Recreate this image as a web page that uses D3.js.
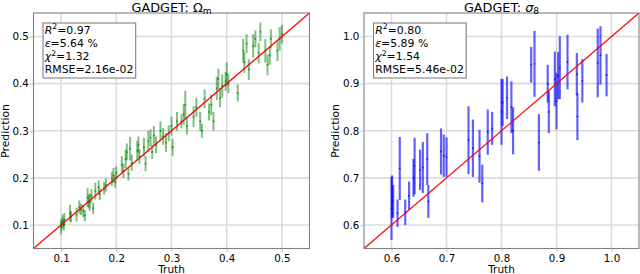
<!DOCTYPE html>
<html><head><meta charset="utf-8">
<script src="https://cdn.jsdelivr.net/npm/d3@7"></script>
<style>body{margin:0;background:#fff}svg{display:block;font-family:"DejaVu Sans",sans-serif}</style>
</head><body><svg id="c" width="640" height="274"></svg>
<script>
// Left panel: Omega_m  [truth, prediction, error]
const omTruth = [0.100,0.101,0.103,0.105,0.106,0.116,0.118,0.128,0.133,0.136,0.140,0.143,0.148,0.150,0.152,0.155,0.158,0.162,0.168,0.170,0.178,0.181,0.192,0.195,0.198,0.200,0.210,0.213,0.217,0.219,0.222,0.225,0.228,0.238,0.240,0.242,0.250,0.253,0.258,0.262,0.265,0.268,0.272,0.280,0.285,0.290,0.295,0.300,0.302,0.310,0.318,0.322,0.325,0.328,0.340,0.345,0.352,0.355,0.360,0.368,0.372,0.376,0.382,0.385,0.388,0.392,0.398,0.400,0.403,0.420,0.430,0.432,0.436,0.440,0.448,0.452,0.458,0.461,0.470,0.474,0.478,0.480,0.492,0.496,0.500];
const omPred  = [0.095,0.103,0.108,0.100,0.112,0.125,0.118,0.122,0.138,0.133,0.130,0.120,0.158,0.150,0.148,0.162,0.135,0.172,0.180,0.165,0.178,0.185,0.198,0.205,0.192,0.210,0.228,0.215,0.240,0.255,0.208,0.262,0.232,0.258,0.270,0.245,0.265,0.230,0.278,0.285,0.255,0.290,0.270,0.300,0.288,0.275,0.295,0.310,0.265,0.320,0.320,0.335,0.355,0.310,0.330,0.350,0.320,0.300,0.368,0.340,0.355,0.320,0.390,0.410,0.370,0.395,0.405,0.420,0.400,0.380,0.470,0.445,0.485,0.430,0.480,0.495,0.465,0.510,0.470,0.440,0.460,0.495,0.470,0.495,0.505];
const omErr   = [0.015,0.012,0.014,0.012,0.013,0.018,0.012,0.015,0.014,0.012,0.013,0.012,0.020,0.015,0.018,0.014,0.012,0.018,0.015,0.012,0.013,0.014,0.015,0.016,0.013,0.014,0.018,0.015,0.020,0.018,0.014,0.025,0.017,0.020,0.018,0.015,0.020,0.016,0.022,0.018,0.015,0.020,0.018,0.020,0.018,0.020,0.017,0.020,0.018,0.020,0.015,0.022,0.030,0.018,0.022,0.020,0.020,0.015,0.020,0.018,0.022,0.020,0.025,0.022,0.020,0.025,0.020,0.025,0.020,0.018,0.025,0.022,0.020,0.022,0.025,0.018,0.022,0.020,0.025,0.022,0.020,0.020,0.022,0.025,0.020];
// Right panel: sigma_8
const s8Truth = [0.600,0.601,0.603,0.611,0.615,0.625,0.632,0.640,0.642,0.652,0.657,0.665,0.667,0.690,0.695,0.700,0.740,0.748,0.760,0.765,0.775,0.783,0.800,0.802,0.810,0.818,0.821,0.854,0.860,0.868,0.884,0.886,0.897,0.900,0.903,0.906,0.920,0.937,0.938,0.947,0.975,0.980,0.991];
const s8Pred  = [0.635,0.660,0.650,0.625,0.720,0.627,0.662,0.700,0.725,0.717,0.722,0.740,0.650,0.756,0.747,0.744,0.780,0.763,0.746,0.688,0.797,0.805,0.840,0.860,0.870,0.850,0.800,0.940,0.942,0.775,0.900,0.840,0.910,0.863,0.917,0.934,0.946,0.920,0.830,0.906,0.944,0.960,0.918];
const s8Err   = [0.067,0.045,0.035,0.029,0.067,0.027,0.030,0.040,0.060,0.043,0.054,0.055,0.035,0.049,0.045,0.042,0.072,0.061,0.056,0.040,0.048,0.035,0.070,0.050,0.045,0.055,0.050,0.038,0.070,0.060,0.040,0.045,0.058,0.060,0.050,0.067,0.058,0.045,0.050,0.046,0.073,0.062,0.045];
const omTicks = [0.1,0.2,0.3,0.4,0.5];
const s8Ticks = [0.6,0.7,0.8,0.9,1.0];
const omStats = ["0.97","5.64","1.32","2.16e-02"];
const s8Stats = ["0.80","5.89","1.54","5.46e-02"];

const svg = d3.select("#c");

function panel(cfg){
  const g = svg.append("g");
  const x = d3.scaleLinear().domain(cfg.domain).range([cfg.x0, cfg.x1]);
  const y = d3.scaleLinear().domain(cfg.domain).range([248.5, 13]);
  // grid
  g.selectAll(".gx").data(cfg.ticks).join("line")
    .attr("x1",d=>x(d)).attr("x2",d=>x(d)).attr("y1",13).attr("y2",248.5)
    .attr("stroke","#dcdcdc").attr("stroke-width",1.6);
  g.selectAll(".gy").data(cfg.ticks).join("line")
    .attr("y1",d=>y(d)).attr("y2",d=>y(d)).attr("x1",cfg.x0).attr("x2",cfg.x1)
    .attr("stroke","#dcdcdc").attr("stroke-width",1.6);
  // error bars
  const pts = cfg.truth.map((t,i)=>({t, p:cfg.pred[i], e:cfg.err[i]}));
  g.selectAll(".eb").data(pts).join("line")
    .attr("x1",d=>x(d.t)).attr("x2",d=>x(d.t))
    .attr("y1",d=>y(d.p-d.e)).attr("y2",d=>y(d.p+d.e))
    .attr("stroke",cfg.color).attr("stroke-opacity",cfg.alpha).attr("stroke-width",cfg.bw);
  g.selectAll(".pt").data(pts).join("circle")
    .attr("cx",d=>x(d.t)).attr("cy",d=>y(d.p)).attr("r",0.9)
    .attr("fill",cfg.color).attr("fill-opacity",0.8);
  // identity line
  g.append("line").attr("x1",x(cfg.domain[0])).attr("y1",y(cfg.domain[0]))
    .attr("x2",x(cfg.domain[1])).attr("y2",y(cfg.domain[1]))
    .attr("stroke","#ff0000").attr("stroke-width",1.2);
  // frame
  g.append("rect").attr("x",cfg.x0).attr("y",13).attr("width",cfg.x1-cfg.x0).attr("height",235.5)
    .attr("fill","none").attr("stroke","#808080").attr("stroke-width",1.1);
  // axes
  const ax = g.append("g").attr("transform","translate(0,249)")
    .call(d3.axisBottom(x).tickValues(cfg.ticks).tickFormat(d3.format(".1f")).tickSize(3).tickPadding(2.5));
  ax.select(".domain").remove();
  ax.selectAll(".tick line").attr("stroke","#cccccc").attr("stroke-width",1.2);
  ax.selectAll("text").attr("font-size",10.3).attr("fill","#000").attr("font-family","DejaVu Sans");
  const ay = g.append("g").attr("transform",`translate(${cfg.x0-0.5},0)`)
    .call(d3.axisLeft(y).tickValues(cfg.ticks).tickFormat(d3.format(".1f")).tickSize(3).tickPadding(1.2));
  ay.select(".domain").remove();
  ay.selectAll(".tick line").attr("stroke","#cccccc").attr("stroke-width",1.2);
  ay.selectAll("text").attr("font-size",10.3).attr("fill","#000").attr("font-family","DejaVu Sans");
  // labels
  const cx = (cfg.x0+cfg.x1)/2;
  g.append("text").attr("x",cx).attr("y",273.3).attr("text-anchor","middle").attr("font-size",10.5).text("Truth");
  g.append("text").attr("transform",`translate(${cfg.x0-25},131) rotate(-90)`).attr("text-anchor","middle").attr("font-size",10.8).text("Prediction");
  // title
  const t = g.append("text").attr("x",cx).attr("y",11.6).attr("text-anchor","middle").attr("font-size",12.8);
  t.append("tspan").text("GADGET: ");
  t.append("tspan").attr("font-style",cfg.symItalic?"italic":"normal").text(cfg.sym);
  t.append("tspan").attr("font-size",9).attr("dy",2.2).text(cfg.sub);
  // stats box
  const bx = cfg.x0+9.5;
  g.append("rect").attr("x",bx).attr("y",23).attr("width",92.7).attr("height",55)
    .attr("fill","#fff").attr("stroke","#808080").attr("stroke-width",1.1);
  const fs = 10.9, lx = bx+1.7;
  const l1 = g.append("text").attr("x",lx).attr("y",33.7).attr("font-size",fs);
  l1.append("tspan").attr("font-style","italic").text("R");
  l1.append("tspan").attr("font-size",7.8).attr("dy",-4.3).text("2");
  l1.append("tspan").attr("dy",4.3).text("=" + cfg.stats[0]);
  const l2 = g.append("text").attr("x",lx).attr("y",47).attr("font-size",fs);
  l2.append("tspan").attr("font-style","italic").text("ε");
  l2.append("tspan").text("=" + cfg.stats[1] + " %");
  const l3 = g.append("text").attr("x",lx).attr("y",60.3).attr("font-size",fs);
  l3.append("tspan").attr("font-style","italic").text("χ");
  l3.append("tspan").attr("font-size",7.8).attr("dy",-4.3).text("2");
  l3.append("tspan").attr("dy",4.3).text("=" + cfg.stats[2]);
  g.append("text").attr("x",lx).attr("y",73.3).attr("font-size",fs).text("RMSE=" + cfg.stats[3]);
}

panel({domain:[0.05,0.55], x0:33.5, x1:309.5, ticks:omTicks, truth:omTruth, pred:omPred, err:omErr,
  color:"#008000", alpha:0.5, bw:2, sym:"Ω", sub:"m", symItalic:false, stats:omStats});
panel({domain:[0.55,1.05], x0:364, x1:639, ticks:s8Ticks, truth:s8Truth, pred:s8Pred, err:s8Err,
  color:"#0000ff", alpha:0.62, bw:2.2, sym:"σ", sub:"8", symItalic:true, stats:s8Stats});
</script></body></html>
